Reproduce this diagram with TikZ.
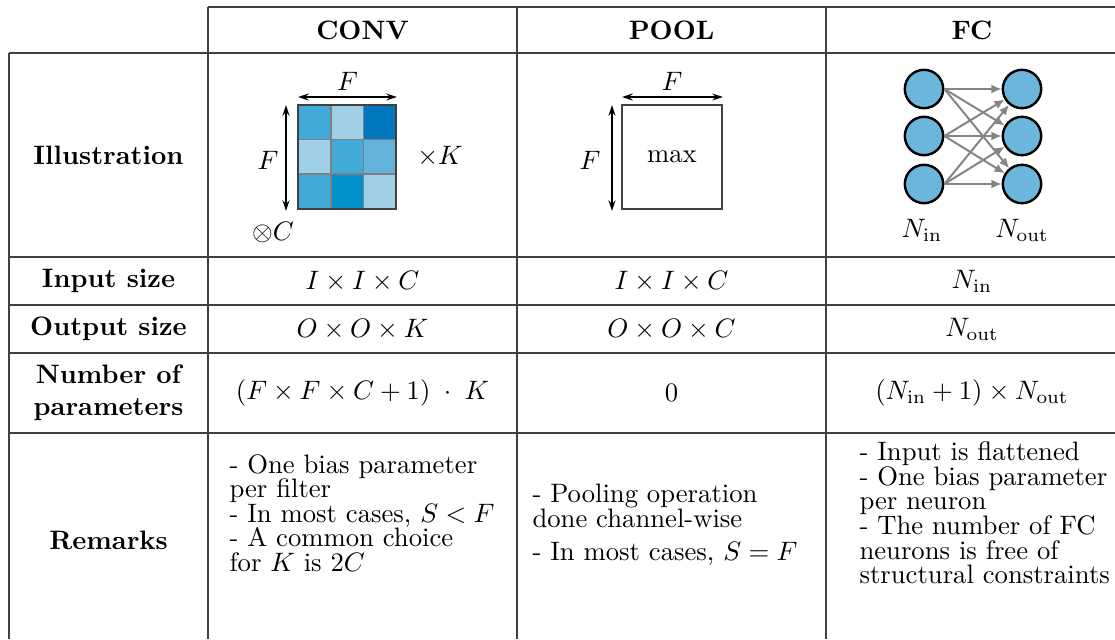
\documentclass[tikz,border=0pt]{standalone}
\usetikzlibrary{arrows.meta}
\definecolor{rulegray}{HTML}{404040}
\definecolor{cellA}{HTML}{42AAD8}
\definecolor{cellB}{HTML}{A0D0E8}
\definecolor{cellC}{HTML}{0077BE}
\definecolor{cellD}{HTML}{62B2DC}
\definecolor{cellE}{HTML}{0090CC}
\definecolor{neuronblue}{HTML}{6BB6DA}
\definecolor{linkgray}{HTML}{858585}
\begin{document}
\begin{tikzpicture}[x=0.375pt,y=-0.375pt,
  rule/.style={draw=rulegray, line width=0.5pt},
  hdr/.style={font=\bfseries, inner sep=0pt},
  val/.style={inner sep=0pt},
  dimarrow/.style={{Stealth[length=4pt,width=2.6pt]}-{Stealth[length=4pt,width=2.6pt]}, line width=0.55pt},
  neuron/.style={circle, draw=black, line width=0.9pt, fill=neuronblue, minimum size=14.4pt, inner sep=0pt},
  link/.style={draw=linkgray, line width=0.75pt, -{Latex[length=3.8pt,width=3.4pt]}},
  rem/.style={align=left, anchor=west, inner sep=0pt, font=\fontsize{10}{9.2}\selectfont}]
\useasboundingbox (0,0) rectangle (1115,639);

% table rules
\draw[rule] (208,7) -- (1115,7);
\foreach \yy in {53,257,305,353,433} \draw[rule] (9,\yy) -- (1115,\yy);
\draw[rule] (9,53) -- (9,639);
\foreach \xx in {208,517,826} \draw[rule] (\xx,7) -- (\xx,639);

% column headers
\node[hdr] (hconv) at (362.5,30) {CONV};
\node[hdr] (hpool) at (671.5,30) {POOL};
\node[hdr] (hfc)   at (972,30)   {FC};

% row labels
\node[hdr] (lill) at (108.5,155) {Illustration};
\node[hdr] (lin)  at (108.5,281) {Input size};
\node[hdr] (lout) at (108.5,329) {Output size};
\node[hdr, align=center] (lpar) at (108.5,393) {Number of\\parameters};
\node[hdr] (lrem) at (108.5,540) {Remarks};

% CONV filter: 3x3 grid of weights
\foreach \c [count=\i from 0] in {cellA,cellB,cellC,cellB,cellA,cellD,cellA,cellE,cellB} {
  \pgfmathtruncatemacro\col{mod(\i,3)}
  \pgfmathtruncatemacro\row{div(\i,3)}
  \fill[\c] ({298+32.7*\col},{105+34.6*\row}) rectangle ++(32.7,34.6);
}
\foreach \k in {1,2} {
  \draw[gray, line width=0.6pt] ({298+32.7*\k},105) -- ({298+32.7*\k},208.8);
  \draw[gray, line width=0.6pt] (298,{105+34.6*\k}) -- (396.1,{105+34.6*\k});
}
\draw[rulegray, line width=0.8pt] (298,105) rectangle (396.1,208.8);
\coordinate (cTL) at (298,97);
\coordinate (cTR) at (397,97);
\coordinate (cST) at (286,105);
\coordinate (cSB) at (286,211);
\draw[dimarrow] (cTL) -- (cTR);
\draw[dimarrow] (cST) -- (cSB);
\node[val] (cF1) at (347.5,81) {$F$};
\node[val] (cF2) at (268,160) {$F$};
\node[val] (cK)  at (440,156) {$\times K$};
\node[val] (cC)  at (273,232) {$\otimes C$};

% POOL window
\node[draw=rulegray, line width=0.6pt, minimum width=37.5pt, minimum height=39pt, inner sep=0pt] (pbox) at (672,157) {max};
\coordinate (pTL) at (622,97);
\coordinate (pTR) at (723,97);
\coordinate (pST) at (612,105);
\coordinate (pSB) at (612,211);
\draw[dimarrow] (pTL) -- (pTR);
\draw[dimarrow] (pST) -- (pSB);
\node[val] (pF1) at (672,81) {$F$};
\node[val] (pF2) at (590,160) {$F$};

% FC layer
\foreach \k/\yy in {1/89,2/136,3/184} {
  \node[neuron] (in\k)  at (924,\yy)  {};
  \node[neuron] (out\k) at (1022,\yy) {};
}
\foreach \i in {1,2,3} \foreach \j in {1,2,3} \draw[link] (in\i.east) -- (out\j);
\node[val] (nin)  at (922,230)  {$N_{\mathrm{in}}$};
\node[val] (nout) at (1022,230) {$N_{\mathrm{out}}$};

% input / output sizes
\node[val] (cin)  at (362.5,281) {$I\times I\times C$};
\node[val] (pin)  at (671.5,281) {$I\times I\times C$};
\node[val] (fin)  at (972,281)   {$N_{\mathrm{in}}$};
\node[val] (cout) at (362.5,329) {$O\times O\times K$};
\node[val] (pout) at (671.5,329) {$O\times O\times C$};
\node[val] (fout) at (972,329)   {$N_{\mathrm{out}}$};

% parameter counts
\node[val] (cpar) at (362.5,393) {$(F\times F\times C+1)\;\cdot\;K$};
\node[val] (ppar) at (671.5,393) {$0$};
\node[val] (fpar) at (972,393)   {$(N_{\mathrm{in}}+1)\times N_{\mathrm{out}}$};

% remarks
\node[rem] (crem) at (229,513) {- One bias parameter\\per filter\\- In most cases, $S<F$\\- A common choice\\for $K$ is $2C$};
\node[rem] (prem) at (532,525) {- Pooling operation\\done channel-wise\\[3.5pt]- In most cases, $S=F$};
\node[rem] (frem) at (859,513) {- Input is flattened\\- One bias parameter\\per neuron\\- The number of FC\\neurons is free of\\structural constraints};
\end{tikzpicture}
\end{document}
